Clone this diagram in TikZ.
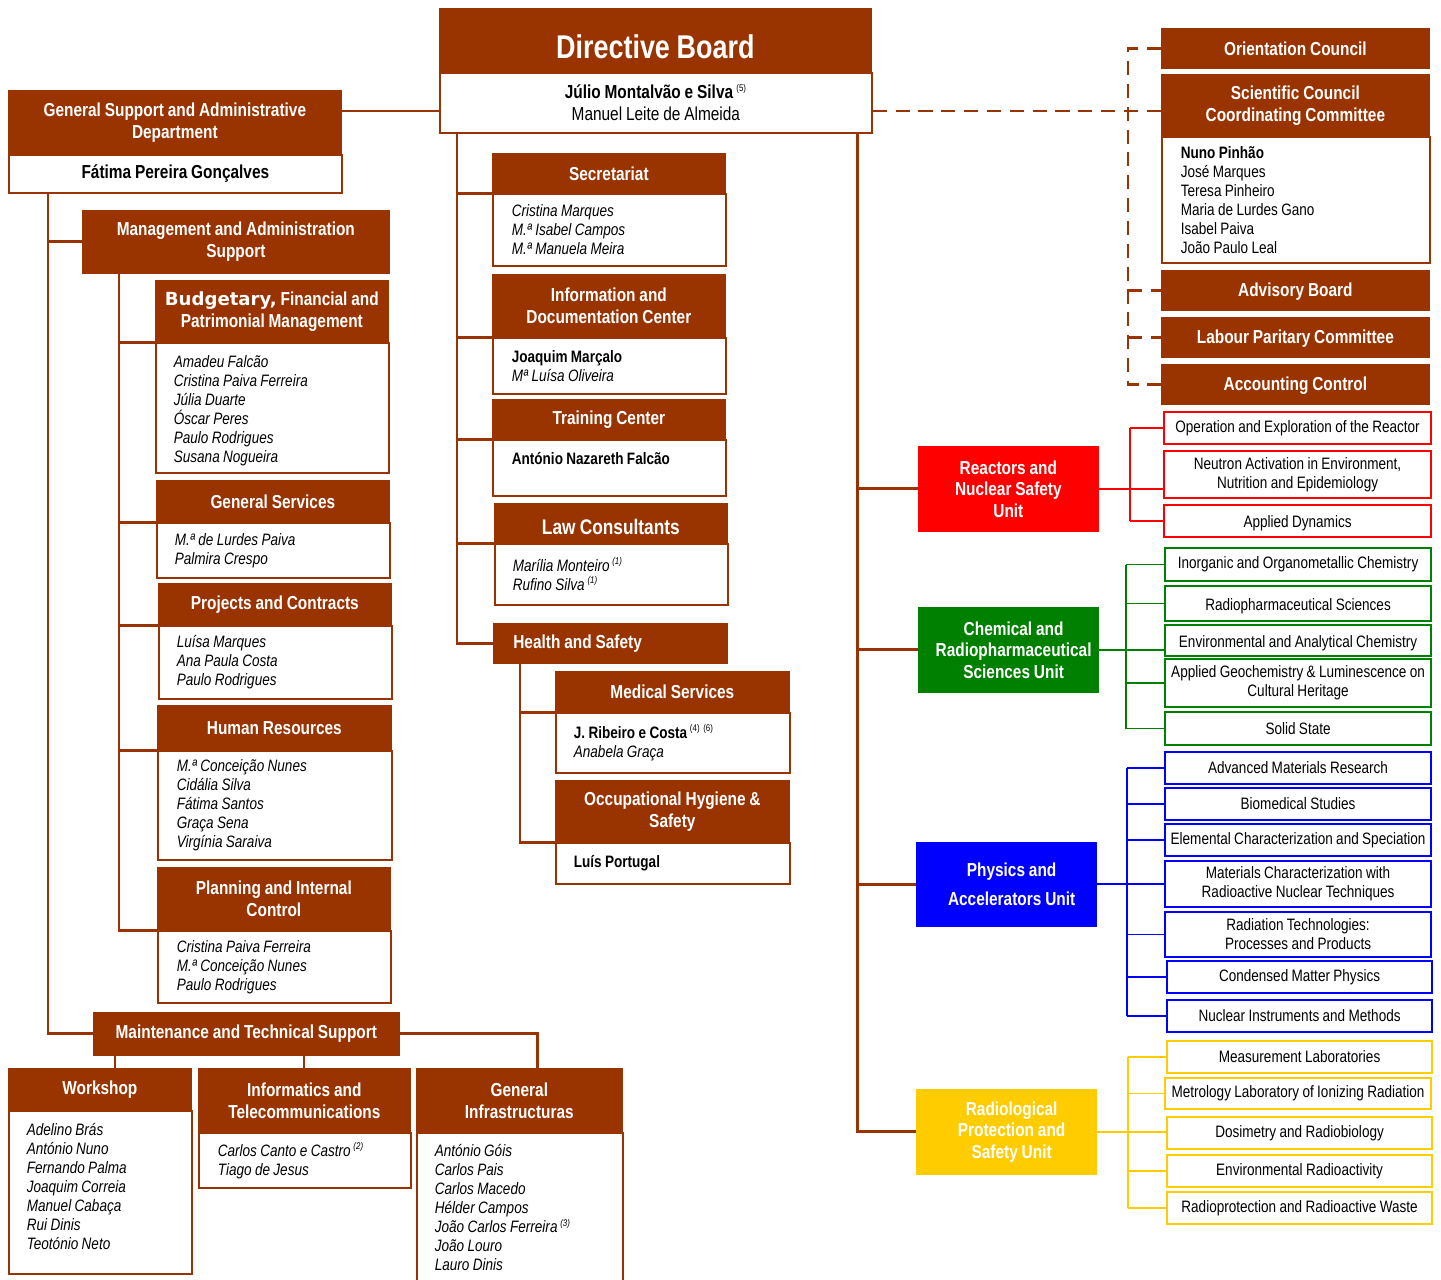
\documentclass[tikz,border=0pt]{standalone}
\usepackage{fontspec}
\setmainfont{Liberation Sans}[FakeStretch=0.82, WordSpace=0.9]
\newfontfamily\verdana{DejaVu Sans}
\usepackage{tikz}

\definecolor{brn}{HTML}{993300}
\definecolor{rnsred}{HTML}{FF0000}
\definecolor{crsgreen}{HTML}{008000}
\definecolor{paublue}{HTML}{0000FF}
\definecolor{rpsyellow}{HTML}{FFCC00}

\newlength\pxu
\setlength\pxu{0.02cm}
\newcommand\hdrsize{\fontsize{10.7}{12.5}\selectfont}
\newcommand\namesize{\fontsize{9.4}{10.8}\selectfont}
\newcommand\fnote[1]{\,\textsuperscript{\fontsize{5.5}{6}\selectfont(#1)}}
\newcommand\lowr[2]{\raisebox{-#1}[\height][\depth]{#2}}

\tikzset{
  sz/.style 2 args={minimum width=#1*\pxu, minimum height=#2*\pxu},
  lft/.code 2 args={\pgfmathsetlengthmacro\lftw{(#1-2*(#2))*\pxu}%
    \pgfmathsetlengthmacro\lftx{(#2)*\pxu}%
    \edef\lftset{\noexpand\tikzset{text width=\lftw, inner xsep=\lftx, align=flush left}}\lftset},
  hdr/.style={anchor=north west, fill=brn, draw=brn, text=white, font=\hdrsize\bfseries, align=flush center, inner sep=1pt},
  bdy/.style={anchor=north west, fill=white, draw=brn, line width=1pt, font=\namesize, align=flush center, inner sep=1pt},
  unit/.style={anchor=north west, draw=#1, fill=#1, text=white, font=\fontsize{10.7}{12.2}\selectfont\bfseries, align=flush center, inner sep=1pt},
  sub/.style={anchor=north west, draw=#1, line width=1.2pt, fill=white, font=\namesize, align=flush center, inner sep=1pt},
  link/.style={draw=brn, line width=1.6pt},
  dlink/.style={link, dash pattern=on 8pt off 5pt},
  ulink/.style={draw=#1, line width=1pt},
}

\begin{document}
\begin{tikzpicture}[x=0.02cm, y=-0.02cm]
\path[use as bounding box, fill=white] (0,0) rectangle (1441,1279);

% directive board and general support
\node[hdr, sz={432}{64}, font=\fontsize{18.7}{22}\selectfont\bfseries] (db) at (439,8) {\lowr{3.5pt}{Directive Board}};
\node[bdy, sz={432}{60}, font=\hdrsize] (dbb) at (439,72) {\textbf{Júlio Montalvão e Silva}\fnote{5}\\Manuel Leite de Almeida};
\node[hdr, sz={333}{64}] (gsd) at (8,90) {General Support and Administrative\\Department};
\node[bdy, sz={333}{38}, font=\hdrsize\bfseries] (gsdb) at (8,154) {Fátima Pereira Gonçalves};

% management column
\node[hdr, sz={307}{63}] (mas) at (82,210) {Management and Administration\\Support};
\node[hdr, sz={233}{62}] (bfp) at (155,280) {{\verdana\fontsize{10.3}{12}\selectfont Budgetary,} Financial and\\Patrimonial Management};
\node[bdy, sz={233}{130}, lft={233}{18}, font=\namesize\itshape] (bfpb) at (155,342) {\lowr{1.5pt}{\parbox[t]{\lftw}{\raggedright Amadeu Falcão\\Cristina Paiva Ferreira\\Júlia Duarte\\Óscar Peres\\Paulo Rodrigues\\Susana Nogueira}}};
\node[hdr, sz={233}{42}] (gsv) at (156,480) {General Services};
\node[bdy, sz={233}{55}, lft={233}{18}, font=\namesize\itshape] (gsvb) at (156,522) {M.ª de Lurdes Paiva\\Palmira Crespo};
\node[hdr, sz={233}{42}] (prc) at (158,583) {Projects and Contracts};
\node[bdy, sz={233}{73}, lft={233}{18}, font=\namesize\itshape] (prcb) at (158,625) {Luísa Marques\\Ana Paula Costa\\Paulo Rodrigues};
\node[hdr, sz={234}{45}] (hur) at (157,705) {Human Resources};
\node[bdy, sz={234}{109}, lft={234}{19}, font=\namesize\itshape] (hurb) at (157,750) {M.ª Conceição Nunes\\Cidália Silva\\Fátima Santos\\Graça Sena\\Virgínia Saraiva};
\node[hdr, sz={233}{63}] (pic) at (157,867) {Planning and Internal\\Control};
\node[bdy, sz={233}{72}, lft={233}{19}, font=\namesize\itshape] (picb) at (157,930) {Cristina Paiva Ferreira\\M.ª Conceição Nunes\\Paulo Rodrigues};

% middle column
\node[hdr, sz={233}{40}] (sec) at (492,153) {Secretariat};
\node[bdy, sz={233}{72}, lft={233}{19}, font=\namesize\itshape] (secb) at (492,193) {Cristina Marques\\M.ª Isabel Campos\\M.ª Manuela Meira};
\node[hdr, sz={233}{63}] (idc) at (492,274) {Information and\\Documentation Center};
\node[bdy, sz={233}{56}, lft={233}{19}] (idcb) at (492,337) {\textbf{Joaquim Marçalo}\\\textit{Mª Luísa Oliveira}};
\node[hdr, sz={233}{40}] (trc) at (492,399) {Training Center};
\node[bdy, sz={233}{56}, lft={233}{19}, font=\namesize\bfseries] (trcb) at (492,439) {António Nazareth Falcão\\\mbox{}};
\node[hdr, sz={233}{40}, font=\fontsize{12}{14}\selectfont\bfseries] (law) at (494,503) {\lowr{2pt}{Law Consultants}};
\node[bdy, sz={233}{61}, lft={233}{18}, font=\namesize\itshape] (lawb) at (494,543) {Marília Monteiro\fnote{1}\\Rufino Silva\fnote{1}};
\node[hdr, sz={234}{40}, lft={234}{20}] (hsf) at (493,623) {Health and Safety};
\node[hdr, sz={234}{41}] (mds) at (555,671) {Medical Services};
\node[bdy, sz={234}{60}, lft={234}{18}] (mdsb) at (555,712) {\textbf{J. Ribeiro e Costa}\fnote{4}\fnote{6}\\\textit{Anabela Graça}};
\node[hdr, sz={234}{62}] (ohs) at (555,780) {Occupational Hygiene \&\\Safety};
\node[bdy, sz={234}{41}, lft={234}{18}, font=\namesize\bfseries] (ohsb) at (555,842) {Luís Portugal};

% councils
\node[hdr, sz={268}{40}] (orc) at (1161,28) {Orientation Council};
\node[hdr, sz={268}{62}] (scc) at (1161,74) {Scientific Council\\Coordinating Committee};
\node[bdy, sz={268}{126}, lft={268}{19}] (sccb) at (1161,136) {\textbf{Nuno Pinhão}\\José Marques\\Teresa Pinheiro\\Maria de Lurdes Gano\\Isabel Paiva\\João Paulo Leal};
\node[hdr, sz={268}{40}] (adv) at (1161,270) {\lowr{1pt}{Advisory Board}};
\node[hdr, sz={268}{40}] (lpc) at (1161,317) {\lowr{1pt}{Labour Paritary Committee}};
\node[hdr, sz={268}{40}] (acc) at (1161,364) {\lowr{1pt}{Accounting Control}};

% scientific units
\node[unit=rnsred, sz={180}{85}] (rns) at (918,446) {Reactors and\\Nuclear Safety\\Unit};
\node[unit=crsgreen, sz={180}{85}] (crs) at (918,607) {\hspace*{6pt}Chemical and\\\hspace*{6pt}Radiopharmaceutical\\\hspace*{6pt}Sciences Unit};
\node[unit=paublue, sz={180}{84}] (pau) at (916,842) {\hspace*{6pt}Physics and\\[4pt]\hspace*{6pt}Accelerators Unit};
\node[unit=rpsyellow, sz={180}{85}] (rps) at (916,1089) {\hspace*{6pt}Radiological\\\hspace*{6pt}Protection and\\\hspace*{6pt}Safety Unit};

\node[sub=rnsred, sz={267}{32}] (rx1) at (1163,411) {Operation and Exploration of the Reactor};
\node[sub=rnsred, sz={267}{47}] (rx2) at (1163,450) {Neutron Activation in Environment,\\Nutrition and Epidemiology};
\node[sub=rnsred, sz={267}{32}] (rx3) at (1163,504) {\lowr{1.5pt}{Applied Dynamics}};

\node[sub=crsgreen, sz={266}{33}] (cx1) at (1164,547) {Inorganic and Organometallic Chemistry};
\node[sub=crsgreen, sz={266}{35}] (cx2) at (1164,585) {\lowr{1.5pt}{Radiopharmaceutical Sciences}};
\node[sub=crsgreen, sz={266}{31}] (cx3) at (1164,624) {\lowr{1.5pt}{Environmental and Analytical Chemistry}};
\node[sub=crsgreen, sz={266}{48}] (cx4) at (1164,658) {Applied Geochemistry \& Luminescence on\\Cultural Heritage};
\node[sub=crsgreen, sz={266}{33}] (cx5) at (1164,711) {Solid State};

\node[sub=paublue, sz={266}{32}] (px1) at (1164,751) {Advanced Materials Research};
\node[sub=paublue, sz={266}{32}] (px2) at (1164,787) {Biomedical Studies};
\node[sub=paublue, sz={266}{32}] (px3) at (1164,823) {Elemental Characterization and Speciation};
\node[sub=paublue, sz={266}{46}] (px4) at (1164,860) {Materials Characterization with\\Radioactive Nuclear Techniques};
\node[sub=paublue, sz={266}{45}] (px5) at (1164,911) {Radiation Technologies:\\Processes and Products};
\node[sub=paublue, sz={265}{32}] (px6) at (1166,960) {Condensed Matter Physics};
\node[sub=paublue, sz={265}{32}] (px7) at (1166,999) {Nuclear Instruments and Methods};

\node[sub=rpsyellow, sz={265}{32}] (yx1) at (1166,1040) {Measurement Laboratories};
\node[sub=rpsyellow, sz={266}{31}] (yx2) at (1164,1077) {Metrology Laboratory of Ionizing Radiation};
\node[sub=rpsyellow, sz={265}{32}] (yx3) at (1166,1116) {Dosimetry and Radiobiology};
\node[sub=rpsyellow, sz={265}{32}] (yx4) at (1166,1154) {Environmental Radioactivity};
\node[sub=rpsyellow, sz={265}{32}] (yx5) at (1166,1191) {Radioprotection and Radioactive Waste};

% maintenance
\node[hdr, sz={306}{43}] (mts) at (93,1012) {Maintenance and Technical Support};
\node[hdr, sz={183}{42}] (wks) at (8,1068) {Workshop};
\node[bdy, sz={183}{163}, lft={183}{18}, font=\namesize\itshape] (wksb) at (8,1110) {Adelino Brás\\António Nuno\\Fernando Palma\\Joaquim Correia\\Manuel Cabaça\\Rui Dinis\\Teotónio Neto\\[-4pt]\mbox{}};
\node[hdr, sz={212}{64}] (itc) at (198,1068) {Informatics and\\Telecommunications};
\node[bdy, sz={212}{55}, lft={212}{19}, font=\namesize\itshape] (itcb) at (198,1132) {Carlos Canto e Castro\fnote{2}\\Tiago de Jesus};
\node[hdr, sz={206}{64}] (gin) at (416,1068) {General\\Infrastructuras};
\node[bdy, sz={206}{150}, lft={206}{18}, font=\namesize\itshape] (ginb) at (416,1132) {António Góis\\Carlos Pais\\Carlos Macedo\\Hélder Campos\\João Carlos Ferreira\fnote{3}\\João Louro\\Lauro Dinis};

% connectors
\draw[link] (gsd.north east) ++(0,21) coordinate (g1) -- (g1 -| dbb.west);
\draw[link] (gsdb.south west) ++(40,0) coordinate (l1) |- (mts.west);
\draw[link] (l1 |- mas.west) -- (mas.west);
\draw[link] (mas.south west) ++(37,0) coordinate (m1) |- (pic.south west);
\foreach \n in {bfp,gsv,prc,hur} \draw[link] (m1 |- \n.south west) -- (\n.south west);

\draw[link] (dbb.south west) ++(18,0) coordinate (s1) |- (hsf.west);
\foreach \n in {sec,idc,trc,law} \draw[link] (s1 |- \n.south west) -- (\n.south west);
\draw[link] (hsf.south west) ++(27,0) coordinate (h1) |- (ohs.south west);
\draw[link] (h1 |- mds.south west) -- (mds.south west);

\draw[link] (dbb.south east) ++(-15,0) coordinate (r1) |- (rps.west);
\foreach \n in {rns,crs,pau} \draw[link] (r1 |- \n.west) -- (\n.west);

\path (gin.north east) ++(-85,0) coordinate (g2);
\draw[link] (mts.east) -| (g2);
\draw[link] (mts.south west) ++(22,0) coordinate (w1) -- (w1 |- wks.north);
\draw[link] (mts.south west) ++(211,0) coordinate (w2) -- (w2 |- itc.north);

% dashed links to the councils
\coordinate (dbr) at (1128,0);
\draw[dlink] (dbb.north east) ++(0,39) coordinate (d1) -- (d1 -| scc.west);
\draw[dlink] (orc.west) -- (orc.west -| dbr) -- (acc.west -| dbr) -- (acc.west);
\foreach \n in {adv,lpc} \draw[dlink] (\n.west -| dbr) -- (\n.west);

% unit brackets
\coordinate (rbr) at (1130,0);
\coordinate (cbr) at (1126,0);
\coordinate (pbr) at (1127,0);
\coordinate (ybr) at (1128,0);
\draw[ulink=rnsred] (rx1.west -| rbr) -- (rx3.west -| rbr);
\foreach \n in {rx1,rx3} \draw[ulink=rnsred] (\n.west -| rbr) -- (\n.west);
\draw[ulink=rnsred] (rns.east) -- (rns.east -| rx2.west);
\draw[ulink=crsgreen] (cx1.west -| cbr) -- (cx5.west -| cbr);
\foreach \n in {cx1,cx2,cx4,cx5} \draw[ulink=crsgreen] (\n.west -| cbr) -- (\n.west);
\draw[ulink=crsgreen] (crs.east) -- (crs.east -| cx3.west);
\draw[ulink=paublue] (px1.west -| pbr) -- (px7.west -| pbr);
\foreach \n in {px1,px2,px3,px5,px6,px7} \draw[ulink=paublue] (\n.west -| pbr) -- (\n.west);
\draw[ulink=paublue] (pau.east) -- (pau.east -| px4.west);
\draw[ulink=rpsyellow] (yx1.west -| ybr) -- (yx5.west -| ybr);
\foreach \n in {yx1,yx2,yx4,yx5} \draw[ulink=rpsyellow] (\n.west -| ybr) -- (\n.west);
\draw[ulink=rpsyellow] (rps.east) -- (rps.east -| yx3.west);
\end{tikzpicture}
\end{document}
